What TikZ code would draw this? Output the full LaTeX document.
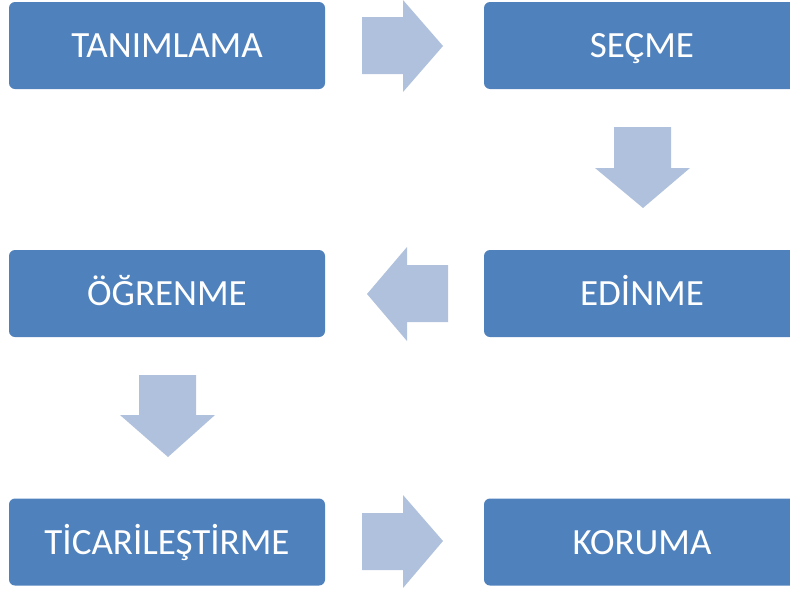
\documentclass[tikz,border=0pt]{standalone}
\usepackage{fontspec}
\setmainfont{Carlito}
\definecolor{boxblue}{HTML}{4F81BD}
\definecolor{arrowblue}{HTML}{B0C1DD}
\begin{document}
\begin{tikzpicture}[x=1pt,y=-1pt,
  stepbox/.style={fill=boxblue,rounded corners=6pt,minimum width=316pt,minimum height=87pt,inner sep=0pt,text=white,font=\fontsize{37}{42}\selectfont,text height=24pt,text depth=0pt},
  flowarrow/.style={fill=arrowblue}]
\useasboundingbox (0,0) rectangle (790,592);
\clip (0,0) rectangle (790,592);
\node[stepbox] (tan) at (167,45.5) {TANIMLAMA};
\node[stepbox] (sec) at (642,45.5) {SEÇME};
\node[stepbox] (edi) at (642,293.5) {EDİNME};
\node[stepbox] (ogr) at (167,293.5) {ÖĞRENME};
\node[stepbox] (tic) at (167,542) {TİCARİLEŞTİRME};
\node[stepbox] (kor) at (642,542) {KORUMA};
% arrows
\fill[flowarrow] (362,17) -- (403,17) -- (403,0) -- (443,46) -- (403,92) -- (403,74) -- (362,74) -- cycle;
\fill[flowarrow] (614,127) -- (671,127) -- (671,168) -- (690,168) -- (643,208) -- (595,168) -- (614,168) -- cycle;
\fill[flowarrow] (448,265) -- (407,265) -- (407,247) -- (367,294) -- (407,341) -- (407,322) -- (448,322) -- cycle;
\fill[flowarrow] (139,375) -- (196,375) -- (196,415) -- (215,415) -- (168,457) -- (120,415) -- (139,415) -- cycle;
\fill[flowarrow] (362,513) -- (403,513) -- (403,495) -- (443,541) -- (403,588) -- (403,570) -- (362,570) -- cycle;
\end{tikzpicture}
\end{document}
